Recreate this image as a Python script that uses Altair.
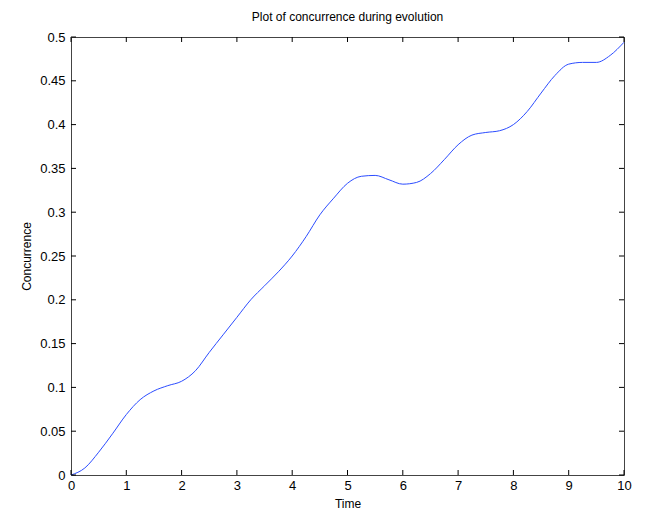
import altair as alt
import pandas as pd

time = [0, 0.25, 0.5, 0.75, 1, 1.25, 1.5, 1.75, 2, 2.25, 2.5, 2.75, 3, 3.25, 3.5,
        3.75, 4, 4.25, 4.5, 4.75, 5, 5.25, 5.5, 5.75, 6, 6.25, 6.5, 6.75, 7, 7.25,
        7.5, 7.75, 8, 8.25, 8.5, 8.75, 9, 9.25, 9.5, 9.75, 10]
concurrence = [0.0, 0.008, 0.026, 0.047, 0.069, 0.086, 0.096, 0.102, 0.107, 0.119,
               0.140, 0.160, 0.180, 0.200, 0.216, 0.232, 0.250, 0.272, 0.297, 0.316,
               0.333, 0.341, 0.342, 0.337, 0.332, 0.334, 0.344, 0.360, 0.377, 0.388,
               0.391, 0.393, 0.400, 0.415, 0.436, 0.456, 0.469, 0.471, 0.471, 0.479,
               0.494]
x_ticks = [0, 1, 2, 3, 4, 5, 6, 7, 8, 9, 10]
y_ticks = [0, 0.05, 0.1, 0.15, 0.2, 0.25, 0.3, 0.35, 0.4, 0.45, 0.5]

W, H = 553, 438
FONT = "Liberation Sans"
AX = "#000000"

df = pd.DataFrame({"t": time, "c": concurrence})
xt = pd.DataFrame({"v": x_ticks})
yt = pd.DataFrame({"v": y_ticks})

xscale = alt.Scale(domain=[0, 10], nice=False)
yscale = alt.Scale(domain=[0, 0.5], nice=False)

line = alt.Chart(df).mark_line(color="#2b4cff", strokeWidth=1, interpolate="monotone").encode(
    x=alt.X("t:Q", scale=xscale, title="Time",
            axis=alt.Axis(values=x_ticks, tickSize=0, labelPadding=4, domain=False, grid=False,
                          labelFontSize=13, titleFontSize=12, titlePadding=6,
                          labelColor="#000", titleColor="#000", labelFont=FONT, titleFont=FONT,
                          titleFontWeight="normal", labelFlush=False)),
    y=alt.Y("c:Q", scale=yscale, title="Concurrence",
            axis=alt.Axis(values=y_ticks, tickSize=0, labelPadding=6, domain=False, grid=False,
                          format="~g", labelFontSize=13, titleFontSize=12, titlePadding=6,
                          labelColor="#000", titleColor="#000", labelFont=FONT, titleFont=FONT,
                          titleFontWeight="normal", labelFlush=False)),
)

TL = 5
bx = alt.Chart(xt).mark_rule(color=AX, strokeWidth=1).encode(
    x=alt.X("v:Q", scale=xscale), y=alt.value(H), y2=alt.value(H - TL))
tx = alt.Chart(xt).mark_rule(color=AX, strokeWidth=1).encode(
    x=alt.X("v:Q", scale=xscale), y=alt.value(0), y2=alt.value(TL))
ly = alt.Chart(yt).mark_rule(color=AX, strokeWidth=1).encode(
    y=alt.Y("v:Q", scale=yscale), x=alt.value(0), x2=alt.value(TL))
ry = alt.Chart(yt).mark_rule(color=AX, strokeWidth=1).encode(
    y=alt.Y("v:Q", scale=yscale), x=alt.value(W), x2=alt.value(W - TL))

chart = alt.layer(line, bx, tx, ly, ry).properties(
    width=W, height=H,
    background="white",
    title=alt.TitleParams("Plot of concurrence during evolution", font=FONT, fontSize=12,
                          fontWeight="normal", color="#000", offset=7),
    autosize=alt.AutoSizeParams(type="none"),
    padding={"left": 63, "top": 29, "right": 32, "bottom": 40},
).configure_view(stroke="#444444", strokeWidth=1)

chart.save("out.html", embed_options={"renderer": "svg", "actions": False})
